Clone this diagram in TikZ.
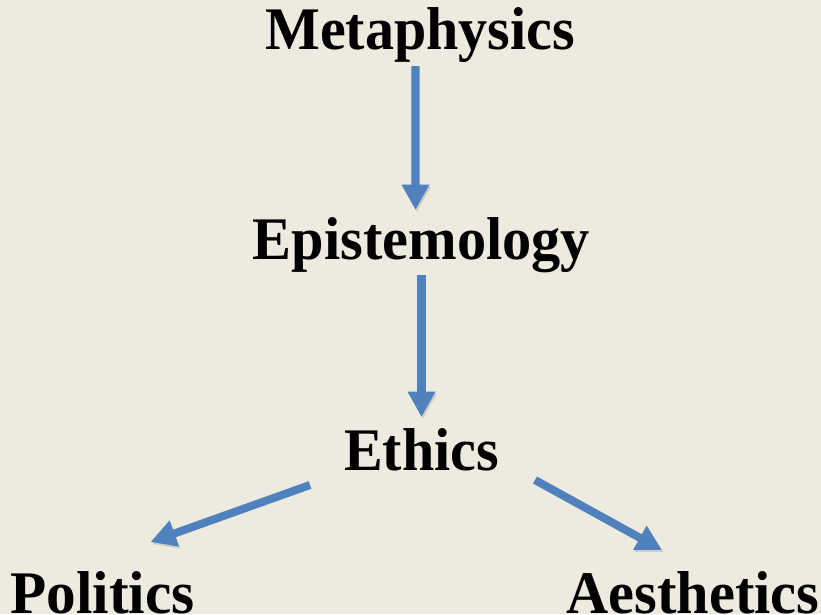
\documentclass[tikz,border=0pt]{standalone}
\usepackage{fontspec}
\setmainfont{Liberation Serif}
\usetikzlibrary{arrows.meta,calc}
\definecolor{phBack}{RGB}{237,234,224}
\definecolor{phBlue}{RGB}{79,129,189}
\tikzset{
    word/.style={font=\bfseries\fontsize{43}{50}\selectfont, inner sep=0pt,
                 anchor=base, transform shape},
    flow/.style={-{Triangle[width=18.5pt,length=18pt]}, line width=5.7pt, color=phBlue,
                 preaction={draw=black, opacity=0.12,
                            transform canvas={shift={(1pt,-1.5pt)}}}}
}
\begin{document}
\begin{tikzpicture}[x=0.025cm,y=-0.025cm]
  % Frame
  \useasboundingbox (0,0) rectangle (821,614);
  \clip (0,0) rectangle (821,614);
  \fill[phBack] (0,0) rectangle (821,614);

  % Branches
  \node[word, xscale=0.96] (meta) at (420,49) {Metaphysics};
  \node[word, xscale=0.965] (epi) at (421.5,259) {Epistemology};
  \node[word, xscale=0.96] (ethics) at (421.5,470) {Ethics};
  \node[word, xscale=0.98] (pol) at (102.5,613) {Politics};
  \node[word, xscale=0.965] (aes) at (693,613) {Aesthetics};

  % Arrows
  \draw[flow] ($(meta.base)+(-4.5,17)$) -- ($(epi.base)+(-6,-49)$);
  \draw[flow] ($(epi.base)+(0,16)$) -- ($(ethics.base)+(0,-53)$);
  \draw[flow] ($(ethics.base)+(-111.5,15)$) -- ($(pol.base)+(48,-71)$);
  \draw[flow] ($(ethics.base)+(113.5,10)$) -- ($(aes.base)+(-31,-63)$);
\end{tikzpicture}
\end{document}
